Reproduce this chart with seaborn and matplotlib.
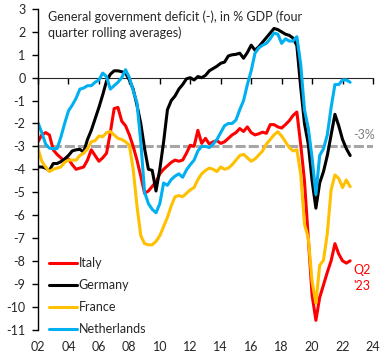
"""
Déficit public (moyennes mobiles sur 4 trimestres), en % du PIB
"""
import numpy as np
import pandas as pd
import matplotlib
matplotlib.use("Agg")
import matplotlib.pyplot as plt
import seaborn as sns

# Données trimestrielles 2002T1 - 2022T3
pays = ["Italy", "Germany", "France", "Netherlands"]
couleurs = ["#FF0000", "#000000", "#FFC000", "#00B0F0"]

italie = [
    -2.8, -2.5, -2.4, -2.5,   -3.15, -3.35, -3.5, -3.65,
    -3.55, -3.8, -4.0, -3.95,  -3.9, -3.6, -3.15, -3.4,
    -3.65, -3.5, -3.3, -2.4,   -1.35, -1.3, -1.9, -2.1,
    -2.5, -3.0, -3.6, -4.3,    -5.05, -4.95, -4.75, -4.55,
    -4.2, -4.0, -3.85, -3.7,   -3.6, -3.65, -3.6, -3.3,
    -2.95, -3.0, -2.3, -2.87,  -2.65, -2.9, -2.8, -2.75,
    -2.87, -2.8, -2.65, -2.5,  -2.4, -2.22, -2.35, -2.15,
    -2.4, -2.5, -2.45, -2.38,  -2.43, -2.05, -2.05, -2.15,
    -2.2, -2.05, -1.88, -1.65, -1.5, -2.9, -4.5, -7.0,
    -9.5, -10.6, -9.6, -9.05,  -8.5, -8.0, -7.25, -7.7,
    -8.0, -8.1, -8.0,
]
allemagne = [
    -3.9, -3.9, -3.95, -4.05,  -3.75, -3.75, -3.67, -3.55,
    -3.4, -3.2, -3.15, -3.13,  -3.25, -2.7, -2.3, -1.8,
    -1.3, -0.75, -0.15, 0.15,  0.3, 0.3, 0.26, 0.2,
    -0.1, -0.5, -1.2, -2.0,    -3.1, -4.0, -4.05, -4.95,
    -4.0, -2.8, -1.4, -1.0,    -0.8, -0.5, -0.3, -0.05,
    0.0, -0.1, 0.05, 0.0,      0.1, 0.3, 0.4, 0.5,
    0.63, 0.68, 0.95, 1.0,     1.02, 1.07, 0.85, 1.1,
    1.42, 1.2, 1.35, 1.55,     1.75, 1.95, 2.15, 2.1,
    2.0, 1.9, 1.85, 1.73,      1.4, -0.4, -2.0, -2.9,
    -4.5, -5.7, -4.6, -4.1,    -3.4, -2.5, -1.6, -2.1,
    -2.7, -3.1, -3.4,
]
france = [
    -3.1, -3.65, -3.9, -4.1,   -4.0, -3.95, -3.9, -3.7,
    -3.6, -3.6, -3.6, -3.4,    -3.3, -3.1, -2.8, -2.75,
    -2.55, -2.58, -2.4, -2.35, -2.5, -2.65, -2.7, -2.8,
    -2.95, -4.0, -5.6, -6.9,   -7.25, -7.3, -7.3, -7.15,
    -6.9, -6.5, -6.1, -5.6,    -5.2, -5.15, -5.2, -5.05,
    -4.9, -4.8, -4.45, -4.2,   -4.05, -3.95, -4.0, -4.1,
    -3.9, -4.0, -3.95, -3.8,   -3.6, -3.4, -3.35, -3.5,
    -3.65, -3.55, -3.38, -3.2, -2.9, -2.7, -2.5, -2.36,
    -2.55, -2.8, -3.05, -3.2,  -3.15, -4.2, -6.4, -7.0,
    -8.9, -9.85, -8.2, -7.97,  -6.8, -4.9, -4.25, -4.4,
    -4.8, -4.47, -4.76,
]
pays_bas = [
    -1.97, -2.4, -2.9, -3.08,  -3.1, -3.1, -2.6, -2.0,
    -1.45, -1.2, -0.9, -0.5,   -0.45, -0.35, -0.35, -0.2,
    -0.1, 0.2, 0.05, -0.5,     -0.35, -0.2, 0.0, 0.35,
    0.0, -0.55, -1.1, -2.8,    -5.0, -5.5, -5.75, -5.9,
    -5.5, -4.6, -4.7, -4.45,   -4.3, -4.2, -4.35, -4.03,
    -3.8, -3.6, -3.2, -3.0,    -3.0, -3.05, -2.9, -2.7,
    -2.4, -2.1, -2.0, -2.0,    -1.85, -1.4, -1.0, -0.3,
    0.3, 1.07, 1.3, 1.42,      1.5, 1.7, 1.95, 1.9,
    1.5, 1.7, 1.6, 1.6,        1.79, 0.6, -1.4, -2.2,
    -3.5, -5.1, -3.4, -3.1,    -2.5, -1.3, -0.3, -0.3,
    -0.1, -0.1, -0.2,
]

trimestres = pd.period_range("2002Q1", "2022Q3", freq="Q")
annees = trimestres.year + (trimestres.quarter - 1) / 4

annees_ticks = list(range(2002, 2025, 2))
labels_ticks = [f"{a % 100:02d}" for a in annees_ticks]
seuil = -3

# Mise en forme longue pour seaborn
df = pd.concat([
    pd.DataFrame({"annee": annees, "deficit": vals, "pays": p})
    for p, vals in zip(pays, [italie, allemagne, france, pays_bas])
])

sns.set_style("white")
plt.rcParams["font.family"] = ["Lato", "DejaVu Sans"]
plt.rcParams["axes.unicode_minus"] = False
taille = 9

fig = plt.figure(figsize=(3.85, 3.6), dpi=100)
ax = fig.add_axes([0.0987, 0.0847, 0.8701, 0.8903])

# Ligne des -3%
ax.axhline(seuil, color="#A6A6A6", linewidth=2.2, dashes=(3.3, 1.0), zorder=1)

sns.lineplot(data=df, x="annee", y="deficit", hue="pays", hue_order=pays,
             palette=couleurs, linewidth=2.2, ax=ax, legend=False, zorder=2)

ax.set_xlim(2002, 2024)
ax.set_ylim(-11, 3)
ax.set_yticks(range(-11, 4))
ax.set_xticks(annees_ticks)
ax.set_xticklabels(labels_ticks)
ax.set_xlabel("")
ax.set_ylabel("")

for s in ["top", "right", "bottom"]:
    ax.spines[s].set_visible(False)
ax.spines["left"].set_color("black")
ax.spines["left"].set_linewidth(1)
ax.tick_params(axis="y", direction="out", length=4, width=1, color="black",
               labelsize=taille, pad=5, left=True)
ax.tick_params(axis="x", length=0, labelsize=taille, pad=8)

# Axe des abscisses à zéro (graduations vers le haut)
axe_zero = ax.secondary_xaxis(11 / 14)
axe_zero.set_xticks(annees_ticks)
axe_zero.tick_params(direction="in", length=4, width=1, color="black",
                     labelbottom=False, labeltop=False)
axe_zero.spines["bottom"].set_color("black")
axe_zero.spines["bottom"].set_linewidth(1)

ax.text(0.03, 0.997,
        "General government deficit (-), in % GDP (four\nquarter rolling averages)",
        transform=ax.transAxes, ha="left", va="top", fontsize=taille, linespacing=1.4)
ax.text(2022.68, -2.5, "-3%", color="#7F7F7F", fontsize=taille, ha="left", va="center")
ax.text(2022.68, -8.75, "Q2\n'23", color="#FF0000", fontsize=taille, ha="left",
        va="center", linespacing=1.4)

poignees = [plt.Line2D([], [], color=c, linewidth=2.2) for c in couleurs]
ax.legend(poignees, pays, loc="center left", bbox_to_anchor=(0.033, 0.1045),
          frameon=False, fontsize=taille, handlelength=2.2, handletextpad=0.15,
          labelspacing=0.8, borderpad=0, borderaxespad=0)

fig.savefig("out.png", dpi=100)
